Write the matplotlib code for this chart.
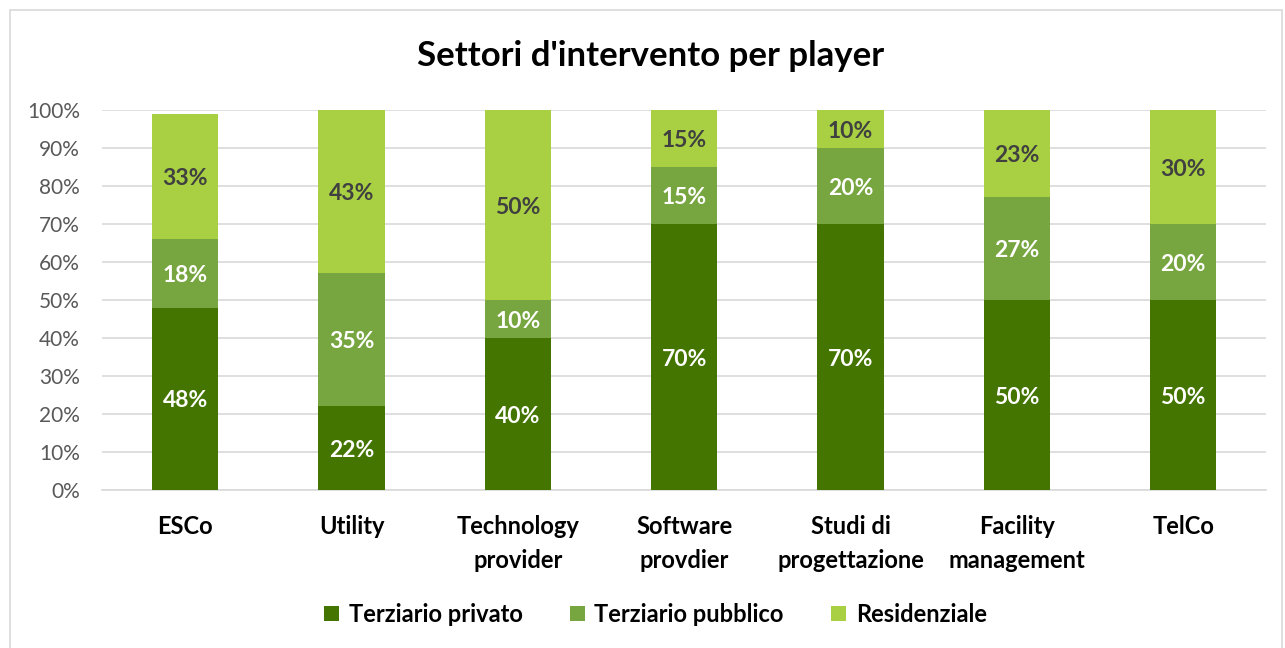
import matplotlib.pyplot as plt
import numpy as np
from matplotlib.patches import Rectangle

plt.rcParams['font.family'] = ['Lato', 'DejaVu Sans']

categories = ['ESCo', 'Utility', 'Technology\nprovider', 'Software\nprovdier',
              'Studi di\nprogettazione', 'Facility\nmanagement', 'TelCo']
privato = [48, 22, 40, 70, 70, 50, 50]
pubblico = [18, 35, 10, 15, 20, 27, 20]
residenziale = [33, 43, 50, 15, 10, 23, 30]

series = [
    ('Terziario privato', privato, '#437500', 'white'),
    ('Terziario pubblico', pubblico, '#77a540', 'white'),
    ('Residenziale', residenziale, '#a9d043', '#404040'),
]

fig = plt.figure(figsize=(12.85, 6.48), dpi=100)
ax = fig.add_axes([0.0794, 0.2438, 0.906, 0.5864])

x = np.arange(len(categories))
bottom = np.zeros(len(categories))
for name, vals, color, tcolor in series:
    vals = np.array(vals, dtype=float)
    ax.bar(x, vals, 0.4, bottom=bottom, color=color, label=name, zorder=3)
    for xi, b, v in zip(x, bottom, vals):
        ax.text(xi, b + v / 2, f'{int(v)}%', ha='center', va='center_baseline',
                color=tcolor, fontsize=16.5, fontweight='bold', zorder=4)
    bottom += vals

ax.set_xlim(-0.5, len(categories) - 0.5)
ax.set_ylim(0, 100)
ax.set_yticks(range(0, 101, 10))
ax.set_yticklabels([f'{v}%' for v in range(0, 101, 10)], fontsize=15, color='#595959')
ax.set_xticks(x)
ax.set_xticklabels(categories, fontsize=17, fontweight='bold', color='black',
                   va='top', linespacing=1.6)
ax.tick_params(axis='both', length=0)
ax.tick_params(axis='x', pad=18)
ax.tick_params(axis='y', pad=16)
ax.grid(axis='y', color='#d9d9d9', linewidth=1.2, zorder=0)
for s in ['top', 'right', 'left']:
    ax.spines[s].set_visible(False)
ax.spines['bottom'].set_color('#d9d9d9')
ax.spines['bottom'].set_linewidth(1.2)

fig.text(0.506, 0.913, "Settori d'intervento per player", ha='center', va='center',
         fontsize=25, fontweight='bold', color='black')

fig.legend(loc='center', bbox_to_anchor=(0.51, 0.052), ncol=3, frameon=False,
           prop={'size': 17, 'weight': 'bold'}, handlelength=0.65,
           handleheight=0.65, columnspacing=2.0, handletextpad=0.4)

fig.patches.append(Rectangle((0.008, -0.01), 0.99, 0.995, transform=fig.transFigure,
                             fill=False, edgecolor='#d9d9d9', linewidth=1.2))

fig.savefig('out.png', dpi=100)
